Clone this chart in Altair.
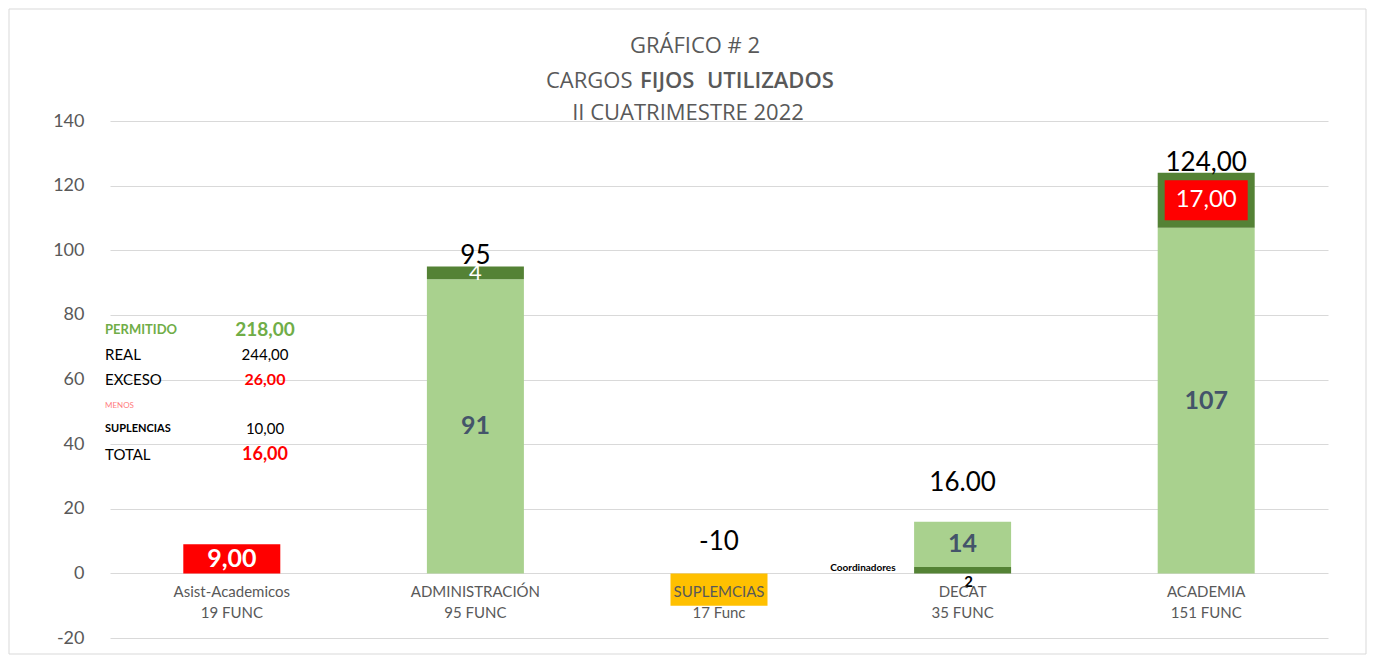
import altair as alt
import pandas as pd

FONT = "Lato"
TFONT = "Open Sans"

# ---------------- data ----------------
categories = ["Asist-Academicos", "ADMINISTRACIÓN", "SUPLEMCIAS", "DECAT", "ACADEMIA"]
category_counts = ["19  FUNC", "95  FUNC", "17 Func", "35    FUNC", "151     FUNC"]

# stacked segments, in stacking order
seg_category = ["Asist-Academicos", "ADMINISTRACIÓN", "ADMINISTRACIÓN", "SUPLEMCIAS",
                "DECAT", "DECAT", "ACADEMIA", "ACADEMIA"]
seg_kind = ["exceso", "permitido", "adicional", "suplencias",
            "adicional", "permitido", "permitido", "adicional"]
seg_value = [9, 91, 4, -10, 2, 14, 107, 17]
seg_label = ["9,00", "91", "4", "", "2", "14", "107", "17,00"]

total_category = ["ADMINISTRACIÓN", "SUPLEMCIAS", "DECAT", "ACADEMIA"]
total_text = ["95", "-10", "16.00", "124,00"]

summary_labels = ["PERMITIDO", "REAL", "EXCESO", "MENOS", "SUPLENCIAS", "TOTAL"]
summary_values = ["218,00", "244,00", "26,00", "", "10,00", "16,00"]

title_line1 = "GRÁFICO # 2"
title_line2_words = ["CARGOS", "FIJOS", "UTILIZADOS"]
title_line3 = "II CUATRIMESTRE 2022"

# ---------------- build tables ----------------
pos_top = {}
neg_bot = {}
rows = []
for c, k, v, lab in zip(seg_category, seg_kind, seg_value, seg_label):
    if v >= 0:
        y0 = pos_top.get(c, 0)
        y1 = y0 + v
        pos_top[c] = y1
    else:
        y0 = neg_bot.get(c, 0)
        y1 = y0 + v
        neg_bot[c] = y1
    rows.append({"cat": c, "kind": k, "y0": y0, "y1": y1, "mid": (y0 + y1) / 2, "label": lab})
seg = pd.DataFrame(rows)

W, H = 1218, 517
YMIN, YMAX = -20, 140
PXU = H / (YMAX - YMIN)

xscale = alt.Scale(domain=categories, paddingInner=0.6, paddingOuter=0.3)
yscale = alt.Scale(domain=[YMIN, YMAX], nice=False)

X = alt.X("cat:N", scale=xscale, axis=None, sort=categories)

color_scale = alt.Scale(domain=["permitido", "adicional", "exceso", "suplencias"],
                        range=["#A9D18E", "#548235", "#FF0000", "#FFC000"])

bars = alt.Chart(seg).mark_bar(size=97).encode(
    x=X,
    y=alt.Y("y0:Q", scale=yscale, title=None,
            axis=alt.Axis(values=list(range(YMIN, YMAX + 1, 20)), domain=False, ticks=False,
                          labelExpr="datum.value + ''",
                          labelColor="#595959", labelFontSize=18, labelFont=FONT,
                          labelPadding=26, gridColor="#D9D9D9", gridWidth=1)),
    y2="y1:Q",
    color=alt.Color("kind:N", scale=color_scale, legend=None),
)

layers = [bars]

# border of the whole chart (decorative)
border = alt.Chart(pd.DataFrame({"a": [0]})).mark_rect(
    fill="white", fillOpacity=0, stroke="#D9D9D9", strokeWidth=1
).encode(x=alt.value(-101), x2=alt.value(1256), y=alt.value(-112), y2=alt.value(533))
layers.insert(0, border)

# title as text lines
def title_text(txt, x, y, align="center", weight="normal", color="#595959"):
    d = pd.DataFrame({"t": [txt]})
    return alt.Chart(d).mark_text(font=TFONT, fontSize=22, color=color, fontWeight=weight,
                                  align=align, baseline="middle").encode(
        x=alt.value(x), y=alt.value(y), text="t:N")

layers.append(title_text(title_line1, 585, -75))
word_x = [436, 530, 597]
word_w = ["normal", 600, 600]
for w, wx, ww in zip(title_line2_words, word_x, word_w):
    layers.append(title_text(w, wx, -40, align="left", weight=ww))
layers.append(title_text(title_line3, 578, -8))

# red box behind 17,00
box_rows = seg[seg["label"] == "17,00"].copy()
half = 20 / PXU
box_rows["b0"] = box_rows["mid"] - half
box_rows["b1"] = box_rows["mid"] + half
layers.append(alt.Chart(box_rows).mark_bar(size=83, color="#FF0000").encode(
    x=X, y=alt.Y("b0:Q", scale=yscale), y2="b1:Q"))

# segment labels with individual styles
seg_styles = {
    "9,00": dict(color="white", fontSize=25, fontWeight="bold"),
    "91": dict(color="#44546A", fontSize=25, fontWeight="bold"),
    "4": dict(color="white", fontSize=22),
    "14": dict(color="#44546A", fontSize=25, fontWeight="bold"),
    "107": dict(color="#44546A", fontSize=25, fontWeight="bold"),
    "17,00": dict(color="white", fontSize=24),
}
for lab, st in seg_styles.items():
    d = seg[seg["label"] == lab]
    layers.append(alt.Chart(d).mark_text(font=FONT, baseline="middle", **st).encode(
        x=X, y=alt.Y("mid:Q", scale=yscale), text="label:N"))

# "2" for DECAT below the axis + Coordinadores
d2 = seg[seg["label"] == "2"]
layers.append(alt.Chart(d2).mark_text(font=FONT, fontSize=15, fontWeight="bold", color="#000000",
                                      baseline="middle", dx=6, dy=9).encode(
    x=X, y=alt.Y("y0:Q", scale=yscale), text="label:N"))
layers.append(alt.Chart(d2.assign(t="Coordinadores")).mark_text(
    font=FONT, fontSize=10, fontWeight="bold", color="#000000", align="right",
    baseline="middle", dx=-67, dy=-5).encode(
    x=X, y=alt.Y("y0:Q", scale=yscale), text="t:N"))

# totals above bars
total_dy = [-10, -31, -39, -10]
for c, t, dy in zip(total_category, total_text, total_dy):
    d = pd.DataFrame({"cat": [c], "t": [t], "y": [pos_top.get(c, 0)]})
    layers.append(alt.Chart(d).mark_text(font=FONT, fontSize=26, color="#000000",
                                         baseline="middle", dy=dy).encode(
        x=X, y=alt.Y("y:Q", scale=yscale), text="t:N"))

# category labels (x axis crossing at 0)
catdf = pd.DataFrame({"cat": categories,
                      "t": [f"{a}\n{b}" for a, b in zip(categories, category_counts)],
                      "y": [0] * len(categories)})
layers.append(alt.Chart(catdf).mark_text(font=FONT, fontSize=15, color="#595959",
                                         baseline="top", lineBreak="\n", lineHeight=21,
                                         dy=12).encode(
    x=X, y=alt.Y("y:Q", scale=yscale), text="t:N"))

# summary box
sum_y = [75.2, 67.5, 59.7, 51.7, 44.6, 36.5]
lab_color = ["#70AD47", "#000000", "#000000", "#FF7C80", "#000000", "#000000"]
lab_size = [13, 15, 15, 8, 11, 15]
lab_weight = ["bold", "normal", "normal", "normal", "bold", "normal"]
val_color = ["#70AD47", "#000000", "#FF0000", "#000000", "#000000", "#FF0000"]
val_size = [19, 15, 16, 15, 15, 18]
val_weight = ["bold", "normal", "bold", "normal", "normal", "bold"]
for i, (lab, val) in enumerate(zip(summary_labels, summary_values)):
    d = pd.DataFrame({"lab": [lab], "val": [val], "y": [sum_y[i]]})
    layers.append(alt.Chart(d).mark_text(font=FONT, fontSize=lab_size[i], color=lab_color[i],
                                         fontWeight=lab_weight[i], align="left",
                                         baseline="middle").encode(
        x=alt.value(-5), y=alt.Y("y:Q", scale=yscale), text="lab:N"))
    if val:
        layers.append(alt.Chart(d).mark_text(font=FONT, fontSize=val_size[i], color=val_color[i],
                                             fontWeight=val_weight[i], align="center",
                                             baseline="middle").encode(
            x=alt.value(155), y=alt.Y("y:Q", scale=yscale), text="val:N"))

chart = alt.layer(*layers).properties(
    width=W, height=H,
    autosize=alt.AutoSizeParams(type="none"),
    padding={"left": 102, "top": 113, "right": 40, "bottom": 18},
).configure_view(strokeWidth=0)

chart.save("out.html", embed_options={"renderer": "svg", "actions": False})
